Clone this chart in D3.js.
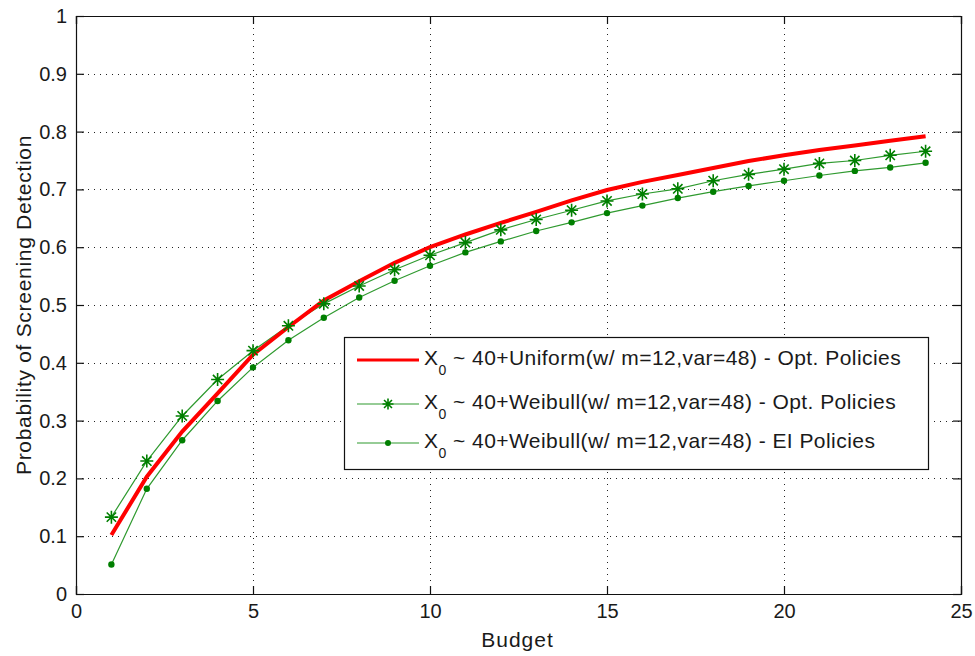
<!DOCTYPE html>
<html>
<head>
<meta charset="utf-8">
<script src="https://cdn.jsdelivr.net/npm/d3@7/dist/d3.min.js"></script>
<style>
  html, body { margin: 0; padding: 0; background: #fff; }
  svg { display: block; }
  text { font-family: "Liberation Sans", Arial, Helvetica, sans-serif; fill: #1a1a1a; }
</style>
</head>
<body>
<svg id="chart" width="975" height="656"></svg>
<script>
// Budget values (x) shared by every series
const budget = [1,2,3,4,5,6,7,8,9,10,11,12,13,14,15,16,17,18,19,20,21,22,23,24];

// Probability of screening detection per budget
const uniformOpt = [0.102,0.203,0.281,0.347,0.414,0.462,0.508,0.541,0.573,0.600,0.622,0.642,
                    0.661,0.681,0.699,0.713,0.725,0.737,0.749,0.759,0.768,0.776,0.784,0.792];
const weibullOpt = [0.133,0.230,0.308,0.371,0.421,0.464,0.502,0.533,0.561,0.586,0.608,0.630,
                    0.648,0.664,0.680,0.692,0.701,0.715,0.726,0.735,0.745,0.750,0.759,0.766];
const weibullEI  = [0.051,0.182,0.266,0.334,0.392,0.439,0.478,0.513,0.542,0.568,0.591,0.610,
                    0.628,0.643,0.659,0.672,0.685,0.696,0.706,0.715,0.724,0.732,0.738,0.746];

const xTicks = [0,5,10,15,20,25];
const yTicks = [0,0.1,0.2,0.3,0.4,0.5,0.6,0.7,0.8,0.9,1];
const xLabel = "Budget";
const yLabel = "Probability of Screening Detection";
const legendLabels = [
  ["X", "0", " ~ 40+Uniform(w/ m=12,var=48) - Opt. Policies"],
  ["X", "0", " ~ 40+Weibull(w/ m=12,var=48) - Opt. Policies"],
  ["X", "0", " ~ 40+Weibull(w/ m=12,var=48) - EI Policies"]
];

const svg = d3.select("#chart");
const pL = 76, pR = 961, pT = 16, pB = 594;

const x = d3.scaleLinear().domain([0, 25]).range([pL, pR]);
const y = d3.scaleLinear().domain([0, 1]).range([pB, pT]);

const lineGreen = "#2f9a2f";
const markGreen = "#007f00";

// dotted grid
const grid = svg.append("g");
grid.selectAll("line.gx").data(xTicks.slice(1, -1)).join("line")
  .attr("x1", d => Math.round(x(d)) + 0.5).attr("x2", d => Math.round(x(d)) + 0.5)
  .attr("y1", pT).attr("y2", pB)
  .attr("stroke", "#222").attr("stroke-width", 1).attr("stroke-dasharray", "1,5");
grid.selectAll("line.gy").data(yTicks.slice(1, -1)).join("line")
  .attr("x1", pL).attr("x2", pR)
  .attr("y1", d => Math.round(y(d)) + 0.5).attr("y2", d => Math.round(y(d)) + 0.5)
  .attr("stroke", "#222").attr("stroke-width", 1).attr("stroke-dasharray", "1,5");

// axes with inward ticks on all four sides
const tk = 8;
const axB = svg.append("g").attr("transform", `translate(0,${pB})`)
  .call(d3.axisBottom(x).tickValues(xTicks).tickSize(-tk).tickPadding(10).tickFormat(d3.format("d")));
const axT = svg.append("g").attr("transform", `translate(0,${pT})`)
  .call(d3.axisTop(x).tickValues(xTicks).tickSize(-tk).tickFormat(""));
const axL = svg.append("g").attr("transform", `translate(${pL},0)`)
  .call(d3.axisLeft(y).tickValues(yTicks).tickSize(-tk).tickPadding(9).tickFormat(d => d === 0 || d === 1 ? d3.format("d")(d) : d3.format(".1f")(d)));
const axR = svg.append("g").attr("transform", `translate(${pR},0)`)
  .call(d3.axisRight(y).tickValues(yTicks).tickSize(-tk).tickFormat(""));
[axB, axT, axL, axR].forEach(a => {
  a.select(".domain").attr("stroke", "#111").attr("stroke-width", 1.2);
  a.selectAll(".tick line").attr("stroke", "#111").attr("stroke-width", 1.2);
  a.selectAll(".tick text").attr("font-size", 20).attr("fill", "#1a1a1a")
    .attr("font-family", "Liberation Sans, Arial, sans-serif");
});

// axis titles
svg.append("text").attr("x", (pL + pR) / 2 - 1).attr("y", 647)
  .attr("text-anchor", "middle").attr("font-size", 21).attr("letter-spacing", 1).text(xLabel);
svg.append("text").attr("transform", `translate(31,${(pT + pB) / 2}) rotate(-90)`)
  .attr("text-anchor", "middle").attr("font-size", 21).attr("letter-spacing", 0.7).text(yLabel);

// series
const line = d3.line().x(d => x(d[0])).y(d => y(d[1]));
const zip = vals => budget.map((b, i) => [b, vals[i]]);

svg.append("path").datum(zip(weibullOpt)).attr("d", line)
  .attr("fill", "none").attr("stroke", lineGreen).attr("stroke-width", 1.2);
svg.append("path").datum(zip(weibullEI)).attr("d", line)
  .attr("fill", "none").attr("stroke", lineGreen).attr("stroke-width", 1.2);
svg.append("path").datum(zip(uniformOpt)).attr("d", line)
  .attr("fill", "none").attr("stroke", "#ff0000").attr("stroke-width", 4);

// star marker: plus overlaid with a cross
function star(g, cx, cy, r) {
  const s = r * 0.72;
  g.append("path")
    .attr("d", `M${cx - r},${cy}H${cx + r}M${cx},${cy - r}V${cy + r}` +
               `M${cx - s},${cy - s}L${cx + s},${cy + s}M${cx - s},${cy + s}L${cx + s},${cy - s}`)
    .attr("stroke", markGreen).attr("stroke-width", 1.6).attr("fill", "none");
}
function dot(g, cx, cy, r) {
  g.append("circle").attr("cx", cx).attr("cy", cy).attr("r", r).attr("fill", markGreen);
}

const mk = svg.append("g");
zip(weibullOpt).forEach(d => star(mk, x(d[0]), y(d[1]), 6.5));
zip(weibullEI).forEach(d => dot(mk, x(d[0]), y(d[1]), 3.2));

// legend
const lg = svg.append("g");
lg.append("rect").attr("x", 344.5).attr("y", 337.5).attr("width", 584).attr("height", 132)
  .attr("fill", "#fff").attr("stroke", "#111").attr("stroke-width", 1.2);
const rowsY = [360, 404, 443];
legendLabels.forEach((lab, i) => {
  const yy = rowsY[i];
  if (i === 0) {
    lg.append("line").attr("x1", 357).attr("x2", 419).attr("y1", yy).attr("y2", yy)
      .attr("stroke", "#ff0000").attr("stroke-width", 3);
  } else {
    lg.append("line").attr("x1", 357).attr("x2", 419).attr("y1", yy).attr("y2", yy)
      .attr("stroke", lineGreen).attr("stroke-width", 1.2);
    if (i === 1) star(lg, 388, yy, 5.5); else dot(lg, 388, yy, 3);
  }
  const t = lg.append("text").attr("x", 424).attr("y", yy + 5).attr("font-size", 21)
    .attr("letter-spacing", 0.45);
  t.append("tspan").text(lab[0]);
  t.append("tspan").attr("dy", 10).attr("font-size", 14).text(lab[1]);
  t.append("tspan").attr("dy", -10).text(lab[2]);
});
</script>
</body>
</html>
